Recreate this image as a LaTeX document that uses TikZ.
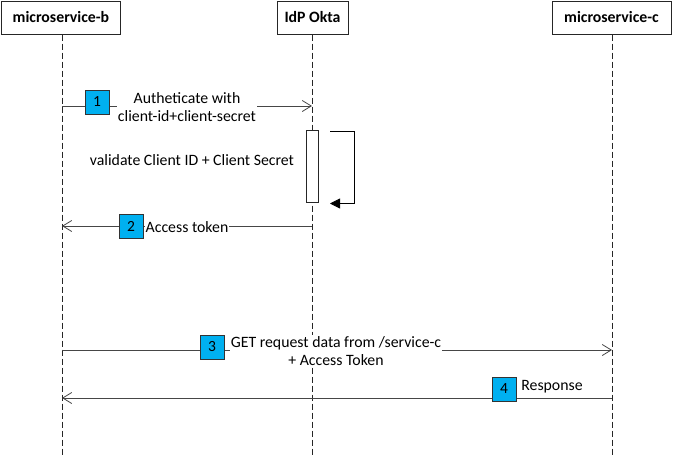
\documentclass[tikz,border=0pt]{standalone}
\usepackage{fontspec}
\setmainfont{Carlito}
\usetikzlibrary{arrows.meta}
\definecolor{numblue}{RGB}{0,176,240}
\definecolor{msggray}{RGB}{70,70,70}
\begin{document}
\begin{tikzpicture}[x=1pt,y=-1pt,
  actor/.style={draw=black!85,fill=white,line width=0.8pt,minimum height=33pt,font=\fontsize{15.8}{18}\selectfont\bfseries},
  lifeline/.style={draw=black!85,dash pattern=on 6pt off 3pt,line width=0.8pt},
  msg/.style={draw=msggray,line width=0.8pt},
  openhead/.style={-{Straight Barb[length=9pt,width=11pt,line width=0.8pt]}},
  num/.style={draw=black!80,fill=numblue,line width=0.8pt,minimum size=24pt,inner sep=0pt,font=\fontsize{15.5}{18}\selectfont},
  lbl/.style={font=\fontsize{15.8}{18}\selectfont,align=center,inner sep=1pt},
  wlbl/.style={lbl,fill=white}
]
\useasboundingbox (0,0) rectangle (673,456);
\fill[white] (0,0) rectangle (673,456);
% actors
\node[actor,minimum width=119pt] (mb) at (61,17.5) {microservice-b};
\node[actor,minimum width=71pt] (ok) at (312.5,17.5) {IdP Okta};
\node[actor,minimum width=119pt] (mc) at (611.5,17.5) {microservice-c};
% lifeline ends
\coordinate (mbe) at (62,456);
\coordinate (oke) at (312,456);
\coordinate (mce) at (612,456);
\draw[lifeline] (62,34.5) -- (mbe);
\draw[lifeline] (312,34.5) -- (oke);
\draw[lifeline] (612,34.5) -- (mce);
% message 1
\coordinate (m1s) at (62,106);
\coordinate (m1e) at (312,106);
\draw[msg,openhead] (m1s) -- (m1e);
\node[wlbl,inner xsep=1pt] (t1) at (187,107) {Autheticate with\\client-id+client-secret};
\node[num] (n1) at (97,102) {1};
% activation and self call
\node[draw=black!85,fill=white,line width=0.8pt,minimum width=11.5pt,minimum height=72pt,inner sep=0pt] (act) at (312.2,166) {};
\coordinate (s1) at (330,131.5);
\coordinate (s2) at (354,131.5);
\coordinate (s3) at (354,203.5);
\coordinate (s4) at (330,203.5);
\draw[black,line width=0.8pt,-{Triangle[length=10pt,width=10pt]}] (s1) -- (s2) -- (s3) -- (s4);
\node[lbl] (t5) at (192,160) {validate Client ID + Client Secret};
% message 2
\coordinate (m2s) at (312,226);
\coordinate (m2e) at (62,226);
\draw[msg,openhead] (m2s) -- (m2e);
\node[wlbl] (t2) at (187,227) {Access token};
\node[num] (n2) at (131,226) {2};
% message 3
\coordinate (m3s) at (62,350);
\coordinate (m3e) at (612,350);
\draw[msg,openhead] (m3s) -- (m3e);
\node[wlbl,inner xsep=1pt] (t3) at (336,351) {GET request data from /service-c\\+ Access Token};
\node[num] (n3) at (212,347) {3};
% message 4
\coordinate (m4s) at (612,398);
\coordinate (m4e) at (62,398);
\draw[msg,openhead] (m4s) -- (m4e);
\node[lbl] (t4) at (552,387) {Response};
\node[num] (n4) at (504,389) {4};
\end{tikzpicture}
\end{document}
